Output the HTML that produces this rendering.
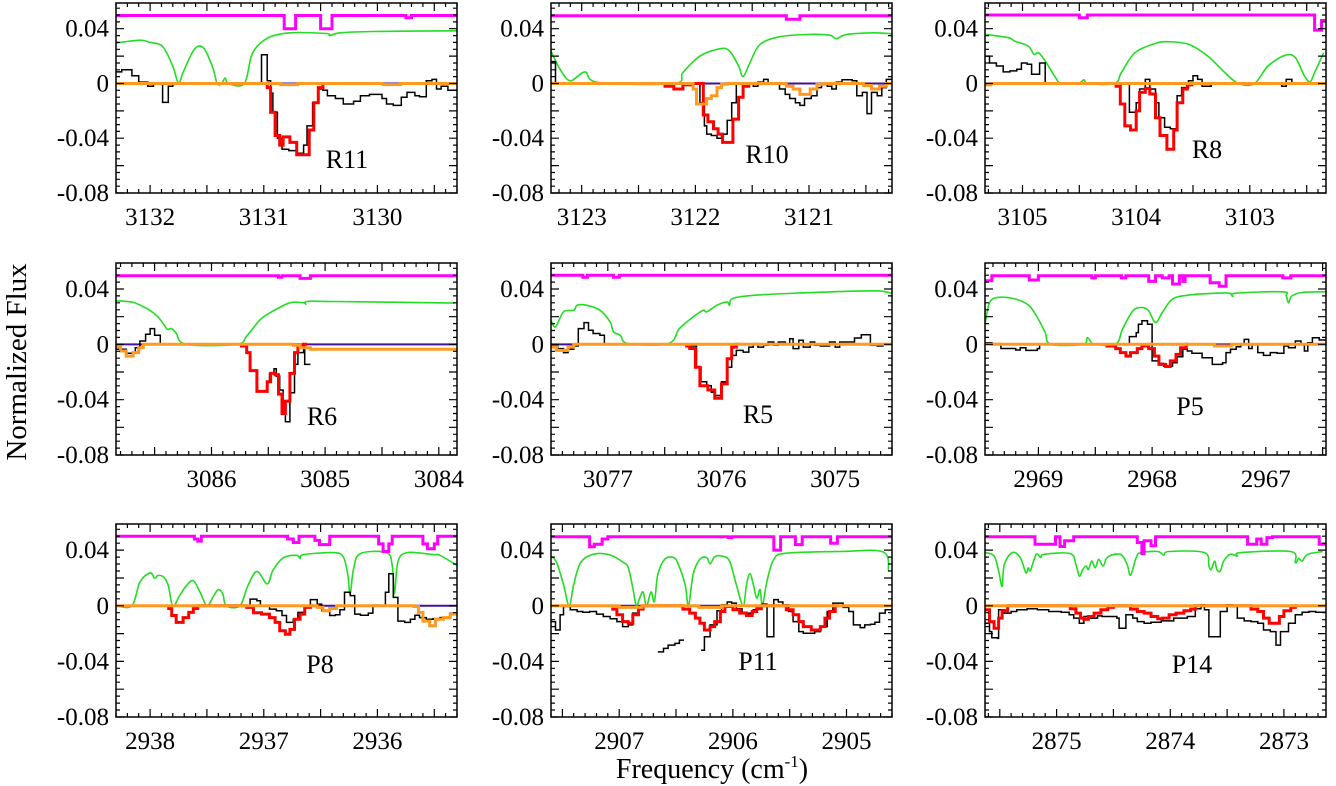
<!DOCTYPE html>
<html><head><meta charset="utf-8"><style>
html,body{margin:0;padding:0;background:#fff;}
svg{display:block;font-family:"Liberation Serif",serif;}
text{font-family:"Liberation Serif",serif;}
</style></head><body>
<svg id="chart" width="1336" height="786" viewBox="0 0 1336 786">
<rect x="0" y="0" width="1336" height="786" fill="#fff"/>
<text x="26" y="362" font-size="29" font-family="Liberation Serif, serif" text-anchor="middle" transform="rotate(-90 26 362)">Normalized Flux</text>
<text x="712" y="778" font-size="28" font-family="Liberation Serif, serif" text-anchor="middle">Frequency (cm<tspan font-size="17" dy="-11">-1</tspan><tspan dy="11">)</tspan></text>
</svg>
<script>
// ---------- data (frequency cm^-1, normalized flux) ----------
const r11Mag=[[3132.30,.0497],[3130.82,.040],[3130.72,.0497],[3130.50,.040],[3130.40,.0497],[3129.75,.048],[3129.70,.0497]];
const r11Green=[[3132.30,.0296],[3132.09,.0316],[3132.00,.030],[3131.89,.027],[3131.80,.0126],[3131.75,0],[3131.71,.008],[3131.61,.025],[3131.53,.026],[3131.45,.012],[3131.41,0],[3131.37,0],[3131.34,.004],[3131.31,0],[3131.17,0],[3131.10,.022],[3130.97,.033],[3130.77,.037],[3130.45,.0365],[3130.42,.035],[3130.33,.037],[3130.04,.038],[3129.30,.0385]];
const r11Black=[[3132.30,.0085],[3132.25,.010],[3132.16,.0056],[3132.10,.001],[3132.02,-.002],[3131.97,0],[3131.89,-.0138],[3131.84,-.002],[3131.80,0],[3131.02,.021],[3130.97,.002],[3130.94,-.007],[3130.92,-.021],[3130.88,-.040],[3130.84,-.048],[3130.78,-.049],[3130.71,-.051],[3130.65,-.045],[3130.62,-.031],[3130.57,-.014],[3130.52,-.004],[3130.48,-.005],[3130.44,-.009],[3130.37,-.011],[3130.30,-.015],[3130.21,-.013],[3130.15,-.009],[3130.07,-.008],[3129.96,-.011],[3129.92,-.015],[3129.86,-.016],[3129.79,-.010],[3129.74,-.0065],[3129.67,-.009],[3129.63,-.0097],[3129.57,.002],[3129.52,.003],[3129.48,-.004],[3129.44,-.002],[3129.38,-.005]];
const r11Red=[[3131.02,0],[3130.97,-.003],[3130.94,-.021],[3130.90,-.038],[3130.86,-.045],[3130.83,-.039],[3130.77,-.043],[3130.71,-.052],[3130.60,-.034],[3130.56,-.014],[3130.52,-.003],[3130.48,0],[3130.45,null]];
const r11Orange=[[3132.30,0],[3130.85,-.0008],[3130.70,0],[3129.95,-.0008],[3129.80,0]];

const r10Mag=[[3123.27,.0495],[3121.20,.047],[3121.08,.0495]];
const r10Green=[[3123.27,.0237],[3123.19,.0104],[3123.10,.002],[3122.97,.0085],[3122.85,.0007],[3122.19,0],[3122.11,.008],[3121.96,.020],[3121.78,.0254],[3121.70,.0237],[3121.62,.0128],[3121.58,.005],[3121.52,.0152],[3121.43,.0286],[3121.26,.0341],[3121.02,.0358],[3120.82,.0353],[3120.76,.0327],[3120.67,.0358],[3120.43,.037],[3120.27,.0363]];
const r10Black=[[3123.27,.016],[3123.23,0],[3121.96,-.014],[3121.92,-.031],[3121.90,-.037],[3121.86,-.038],[3121.81,-.040],[3121.77,-.037],[3121.72,-.027],[3121.68,-.014],[3121.64,0],[3121.49,-.002],[3121.45,.001],[3121.40,.003],[3121.36,0],[3121.26,-.004],[3121.21,-.008],[3121.17,-.011],[3121.12,-.014],[3121.08,-.016],[3121.04,-.011],[3120.98,-.009],[3120.93,-.003],[3120.89,0],[3120.84,-.002],[3120.80,-.004],[3120.76,.001],[3120.71,.0027],[3120.62,.002],[3120.58,-.009],[3120.53,-.0065],[3120.49,-.022],[3120.45,-.0065],[3120.40,-.009],[3120.36,-.003],[3120.32,.003]];
const r10Red=[[3122.28,-.002],[3122.19,-.004],[3122.11,-.001],[3122.02,0],[3121.93,-.023],[3121.89,-.028],[3121.84,-.033],[3121.80,-.037],[3121.76,-.043],[3121.67,-.026],[3121.62,-.010],[3121.58,-.002],[3121.53,0],[3121.50,null]];
const r10Orange=[[3123.27,0],[3122.02,-.004],[3121.99,-.015],[3121.90,-.011],[3121.86,-.009],[3121.81,-.003],[3121.77,-.0005],[3121.72,0],[3121.20,-.002],[3121.14,-.004],[3121.08,-.008],[3120.99,-.004],[3120.93,-.0005],[3120.87,0],[3120.52,-.0015],[3120.45,-.004],[3120.38,-.002],[3120.32,0]];

const r8Mag=[[3105.33,.050],[3104.50,.048],[3104.43,.050],[3102.43,.039],[3102.37,.046]];
const r8Green=[[3105.32,.0358],[3105.12,.0334],[3105.07,.031],[3104.95,.0273],[3104.90,.0213],[3104.86,.0225],[3104.80,.0165],[3104.71,.0044],[3104.66,0],[3104.51,0],[3104.46,.0027],[3104.42,0],[3104.19,0],[3104.13,.008],[3104.01,.0225],[3103.83,.0293],[3103.72,.0305],[3103.54,.0286],[3103.37,.020],[3103.22,.008],[3103.10,0],[3102.96,0],[3102.84,.0128],[3102.69,.0206],[3102.60,.0189],[3102.52,.0056],[3102.47,.0012],[3102.43,.008],[3102.35,.0225]];
const r8Black=[[3105.33,.020],[3105.29,.015],[3105.23,.0128],[3105.17,.0085],[3105.11,.0092],[3105.05,.0104],[3105.01,.015],[3104.96,.014],[3104.92,.0068],[3104.85,.015],[3104.80,0],[3104.06,-.021],[3104.00,-.014],[3103.97,-.004],[3103.92,.003],[3103.88,-.004],[3103.83,-.014],[3103.80,-.025],[3103.75,-.032],[3103.70,-.033],[3103.64,-.009],[3103.60,-.003],[3103.54,.002],[3103.50,.0056],[3103.46,.003],[3103.42,-.002],[3103.34,0],[3102.72,-.002],[3102.68,.003],[3102.63,0]];
const r8Red=[[3104.19,-.002],[3104.14,-.015],[3104.10,-.031],[3104.05,-.034],[3104.00,-.020],[3103.97,-.0065],[3103.92,-.0036],[3103.88,-.0077],[3103.83,-.025],[3103.79,-.038],[3103.73,-.048],[3103.67,-.034],[3103.64,-.014],[3103.59,-.004],[3103.55,-.001],[3103.51,0],[3103.48,null]];
const r8Orange=[[3105.33,-.001],[3105.28,0]];

const r6Mag=[[3086.84,.0496],[3085.41,.0485],[3085.38,.0496],[3085.22,.0477],[3085.13,.0496]];
const r6Green=[[3086.84,.0315],[3086.69,.0303],[3086.57,.0259],[3086.48,.0206],[3086.42,.0145],[3086.39,.0109],[3086.35,.0114],[3086.31,.008],[3086.22,0],[3085.78,0],[3085.69,.006],[3085.57,.018],[3085.46,.024],[3085.31,.030],[3085.19,.030],[3085.17,.029],[3085.16,.031],[3084.93,.031],[3083.86,.0298]];
const r6Black=[[3086.84,-.0036],[3086.75,-.0065],[3086.67,-.0024],[3086.63,.0024],[3086.58,.0073],[3086.54,.0114],[3086.50,.0065],[3086.45,0],[3085.69,-.006],[3085.66,-.019],[3085.60,-.034],[3085.51,-.027],[3085.49,-.021],[3085.45,-.0177],[3085.43,-.023],[3085.40,-.033],[3085.37,-.050],[3085.35,-.056],[3085.31,-.035],[3085.27,-.0145],[3085.24,-.006],[3085.19,-.0036],[3085.18,-.0145],[3085.13,null]];
const r6Red=[[3085.75,-.0012],[3085.69,-.006],[3085.66,-.019],[3085.60,-.034],[3085.51,-.027],[3085.48,-.021],[3085.44,-.022],[3085.41,-.036],[3085.38,-.050],[3085.35,-.041],[3085.31,-.021],[3085.27,-.006],[3085.24,-.001],[3085.19,0],[3085.16,null]];
const r6Orange=[[3086.84,-.0017],[3086.80,-.0048],[3086.75,-.0085],[3086.69,-.006],[3086.64,-.0024],[3086.60,0],[3085.28,-.0007],[3085.22,-.0024],[3085.13,-.0036]];

const r5Mag=[[3077.50,.050],[3077.22,.0485],[3077.18,.050],[3076.95,.0485],[3076.90,.050]];
const r5Green=[[3077.50,.0174],[3077.46,.0126],[3077.39,.0235],[3077.30,.0247],[3077.27,.0283],[3077.19,.0283],[3077.07,.0247],[3076.98,.0162],[3076.95,.009],[3076.89,.0065],[3076.82,.0005],[3076.47,.0005],[3076.37,.0114],[3076.25,.0198],[3076.16,.0247],[3076.13,.0235],[3076.04,.0283],[3075.95,.0307],[3075.93,.0283],[3075.90,.0332],[3075.69,.0356],[3075.25,.0373],[3074.66,.0387],[3074.50,.0368]];
const r5Black=[[3077.50,-.0012],[3077.44,-.0031],[3077.39,-.006],[3077.35,-.0036],[3077.30,-.0012],[3077.26,.0114],[3077.21,.0157],[3077.17,.0102],[3077.13,.0078],[3077.07,.0065],[3077.03,0],[3076.28,-.0012],[3076.22,-.0165],[3076.18,-.027],[3076.13,-.030],[3076.09,-.0346],[3076.06,-.037],[3076.00,-.027],[3075.95,-.0165],[3075.91,-.008],[3075.87,-.0044],[3075.81,-.0056],[3075.76,-.002],[3075.72,.0005],[3075.68,-.002],[3075.63,-.0007],[3075.59,.0017],[3075.54,-.0007],[3075.50,.0017],[3075.44,.0005],[3075.40,.004],[3075.37,-.0031],[3075.32,.003],[3075.28,-.002],[3075.22,.0017],[3075.18,-.0007],[3075.13,-.0012],[3075.05,.0017],[3075.00,-.002],[3074.96,.0017],[3074.83,.0046],[3074.77,.007],[3074.69,-.0007],[3074.63,-.0012],[3074.58,-.0002]];
const r5Red=[[3076.32,-.0012],[3076.28,-.003],[3076.23,-.0165],[3076.19,-.030],[3076.12,-.033],[3076.06,-.039],[3076.00,-.0286],[3075.95,-.0104],[3075.91,-.002],[3075.87,0],[3075.85,null]];
const r5Orange=[[3077.50,-.002],[3077.45,-.0044],[3077.35,-.002],[3077.30,0]];

const p5Mag=[[2969.47,.046],[2969.41,.0496],[2969.08,.0465],[2969.00,.0496],[2968.53,.048],[2968.50,.0496],[2968.27,.048],[2968.23,.0496],[2968.03,.0455],[2967.97,.0496],[2967.91,.048],[2967.85,.0496],[2967.82,.0436],[2967.76,.0496],[2967.73,.0455],[2967.71,.0496],[2967.49,.0445],[2967.41,.042],[2967.35,.0496],[2966.85,.048],[2966.78,.0496]];
const p5Green=[[2969.47,.0145],[2969.43,.030],[2969.35,.034],[2969.20,.0327],[2969.08,.0278],[2969.00,.018],[2968.94,.0085],[2968.89,0],[2968.61,0],[2968.57,.0048],[2968.53,.001],[2968.50,0],[2968.32,0],[2968.26,.0109],[2968.17,.0242],[2968.09,.0266],[2968.03,.0242],[2967.97,.0157],[2967.91,.023],[2967.82,.0327],[2967.68,.0356],[2967.44,.037],[2967.32,.037],[2967.29,.0346],[2967.26,.037],[2966.85,.038],[2966.82,.035],[2966.80,.030],[2966.77,.035],[2966.68,.0375],[2966.47,.038]];
const p5Black=[[2969.47,.0012],[2969.41,.0005],[2969.33,-.003],[2969.27,-.003],[2969.20,-.0041],[2969.16,-.0024],[2969.11,-.0044],[2969.01,-.0031],[2968.99,0],[2968.20,.0056],[2968.14,.0085],[2968.12,.0145],[2968.09,.017],[2968.04,.0145],[2968.00,-.012],[2967.94,-.0138],[2967.90,-.0157],[2967.82,-.0133],[2967.78,-.009],[2967.73,-.0036],[2967.69,-.0048],[2967.65,-.0065],[2967.56,-.0097],[2967.47,-.0145],[2967.38,-.0133],[2967.35,-.006],[2967.31,-.0036],[2967.26,-.0017],[2967.22,0],[2967.19,.0036],[2967.15,-.003],[2967.12,0],[2967.07,-.006],[2967.02,-.008],[2966.96,-.006],[2966.90,-.0065],[2966.84,-.0012],[2966.80,-.0024],[2966.74,.0024],[2966.69,0],[2966.66,-.0048],[2966.63,.0012],[2966.59,.0048],[2966.53,.0031]];
const p5Red=[[2968.41,-.0012],[2968.32,-.0031],[2968.28,-.006],[2968.23,-.0085],[2968.19,-.006],[2968.13,-.0031],[2968.09,-.0012],[2968.03,-.0031],[2967.98,-.0085],[2967.94,-.0145],[2967.88,-.016],[2967.84,-.012],[2967.79,-.0073],[2967.75,-.0024],[2967.70,0],[2967.68,null]];
const p5Orange=[[2969.47,0],[2967.45,-.0012],[2967.30,0]];

const p8Mag=[[2938.30,.050],[2937.61,.048],[2937.58,.0465],[2937.55,.050],[2936.79,.048],[2936.74,.0455],[2936.69,.050],[2936.55,.047],[2936.51,.044],[2936.42,.050],[2935.99,.0445],[2935.95,.039],[2935.90,.0445],[2935.87,.050],[2935.60,.0445],[2935.56,.041],[2935.50,.0445],[2935.47,.050]];
const p8Green=[[2938.30,0],[2938.16,0],[2938.09,.017],[2938.00,.0237],[2937.96,.0198],[2937.93,.0218],[2937.88,.0206],[2937.84,.0145],[2937.80,0],[2937.74,.0073],[2937.68,.0145],[2937.62,.018],[2937.56,.0097],[2937.50,0],[2937.44,.0073],[2937.40,.0116],[2937.36,.0085],[2937.33,0],[2937.21,0],[2937.14,.0145],[2937.06,.0247],[2936.97,.0157],[2936.92,.0254],[2936.83,.0344],[2936.71,.0363],[2936.68,.0339],[2936.65,.0368],[2936.39,.0382],[2936.30,.0351],[2936.26,.0218],[2936.24,.0085],[2936.21,.0266],[2936.15,.0375],[2935.92,.0382],[2935.87,.029],[2935.85,.0085],[2935.82,.0315],[2935.74,.0382],[2935.51,.0368],[2935.45,.0363],[2935.30,.029]];
const p8Black=[[2938.30,0],[2937.12,.0048],[2937.06,.0036],[2937.03,0],[2936.95,-.0024],[2936.89,-.0036],[2936.84,-.007],[2936.80,-.012],[2936.74,-.0097],[2936.70,-.0048],[2936.64,-.0012],[2936.59,.0044],[2936.53,.0012],[2936.49,-.0036],[2936.42,-.007],[2936.37,-.0065],[2936.33,-.0029],[2936.29,.0097],[2936.24,.0073],[2936.20,-.006],[2936.15,-.0068],[2936.08,-.0053],[2936.04,.0005],[2935.98,0],[2935.93,.0097],[2935.90,.023],[2935.86,.006],[2935.82,-.011],[2935.76,-.012],[2935.71,-.0097],[2935.67,-.0068],[2935.63,-.0085],[2935.57,-.0097],[2935.51,-.0092],[2935.45,-.0085],[2935.36,-.0053]];
const p8Red=[[2937.85,-.002],[2937.81,-.007],[2937.77,-.012],[2937.71,-.0085],[2937.66,-.0048],[2937.62,-.002],[2937.58,0],[2937.15,-.0012],[2937.09,-.005],[2937.02,-.006],[2936.95,-.0085],[2936.90,-.012],[2936.86,-.018],[2936.81,-.0205],[2936.77,-.017],[2936.73,-.0097],[2936.68,-.006],[2936.64,-.0012],[2936.59,0],[2936.56,null]];
const p8Orange=[[2938.30,0],[2936.53,-.0012],[2936.48,-.0036],[2936.42,-.002],[2936.36,0],[2935.68,-.0005],[2935.64,-.0048],[2935.60,-.011],[2935.54,-.0145],[2935.49,-.0097],[2935.42,-.0085],[2935.36,-.006]];

const p11Mag=[[2907.60,.0496],[2907.26,.0424],[2907.22,.0443],[2907.15,.048],[2907.10,.0496],[2906.04,.049],[2906.01,.0496],[2905.64,.040],[2905.58,.0496],[2905.45,.044],[2905.39,.0496],[2905.14,.045],[2905.08,.0496]];
const p11Green=[[2907.60,.0358],[2907.55,.031],[2907.49,.0152],[2907.44,0],[2907.40,.0152],[2907.34,.031],[2907.23,.037],[2907.08,.0365],[2906.96,.031],[2906.92,.0273],[2906.88,.0128],[2906.85,0],[2906.82,.0056],[2906.79,.0099],[2906.76,0],[2906.72,.0099],[2906.69,.0031],[2906.66,.0225],[2906.60,.0334],[2906.52,.0346],[2906.48,.0298],[2906.42,.0152],[2906.39,0],[2906.35,.0225],[2906.29,.0334],[2906.23,.0346],[2906.20,.0302],[2906.16,.0353],[2906.10,.0358],[2906.03,.0322],[2905.97,.0152],[2905.91,0],[2905.88,.0152],[2905.85,.023],[2905.82,.0152],[2905.79,.0056],[2905.76,.0116],[2905.74,0],[2905.70,.0177],[2905.64,.0334],[2905.53,.0378],[2905.06,.039],[2904.68,.0387],[2904.63,.0249]];
const p11Black=[[2907.60,-.0114],[2907.56,-.0174],[2907.52,-.0065],[2907.49,-.0005],[2907.43,-.0029],[2907.37,-.0041],[2907.32,-.0046],[2907.26,-.0041],[2907.20,-.006],[2907.14,-.0077],[2907.08,-.0094],[2907.02,-.0114],[2906.97,-.015],[2906.92,-.0138],[2906.88,-.0053],[2906.83,null],[2906.66,-.0332],[2906.61,-.0307],[2906.57,-.0283],[2906.51,-.0271],[2906.47,-.0247],[2906.43,null],[2906.28,-.032],[2906.25,-.0223],[2906.20,-.0138],[2906.14,-.0036],[2906.10,.0007],[2906.05,.0027],[2906.01,.0019],[2905.97,-.0022],[2905.92,-.0046],[2905.88,-.0053],[2905.82,-.0029],[2905.78,-.0005],[2905.74,.0012],[2905.70,-.0223],[2905.64,.0044],[2905.60,.0027],[2905.56,.0007],[2905.51,-.0041],[2905.47,-.0114],[2905.42,-.0186],[2905.38,-.0198],[2905.34,-.0198],[2905.28,-.0186],[2905.23,-.015],[2905.17,-.0041],[2905.12,.0019],[2905.03,-.0012],[2904.98,-.0041],[2904.94,-.0138],[2904.88,-.0157],[2904.84,-.0138],[2904.79,-.0133],[2904.75,-.0119],[2904.71,-.0053],[2904.66,-.0029]];
const p11Red=[[2907.07,-.0024],[2907.02,-.0065],[2906.97,-.0114],[2906.92,-.0126],[2906.88,-.0065],[2906.83,-.0024],[2906.79,0],[2906.44,-.0024],[2906.38,-.0053],[2906.33,-.0089],[2906.29,-.0126],[2906.25,-.0174],[2906.20,-.015],[2906.16,-.0114],[2906.11,-.0041],[2906.07,-.0005],[2906.00,-.0029],[2905.94,-.0053],[2905.88,-.007],[2905.83,-.0041],[2905.79,-.0022],[2905.75,0],[2905.53,-.0029],[2905.47,-.0065],[2905.42,-.0114],[2905.38,-.015],[2905.31,-.0174],[2905.23,-.015],[2905.19,-.0089],[2905.15,-.0041],[2905.10,0],[2905.07,null]];
const p11Orange=[[2907.60,0],[2907.00,-.0012],[2906.80,0],[2906.30,-.0012],[2906.10,0]];

const p14Mag=[[2875.63,.0496],[2875.19,.0443],[2875.01,.0496],[2874.97,.0426],[2874.93,.0467],[2874.85,.0496],[2874.29,.0455],[2874.25,.0375],[2874.23,.0467],[2874.17,.0431],[2874.13,.0496],[2873.32,.0443],[2873.24,.0480],[2873.20,.0443],[2873.15,.0490],[2873.10,.0496],[2872.69,.0443]];
const p14Green=[[2875.63,.0382],[2875.55,.0358],[2875.51,.0249],[2875.48,.014],[2875.46,.0298],[2875.39,.0382],[2875.32,.0346],[2875.27,.0237],[2875.25,.0273],[2875.23,.0254],[2875.18,.037],[2875.14,.0346],[2875.11,.037],[2874.88,.0375],[2874.83,.0298],[2874.80,.0213],[2874.77,.0261],[2874.74,.0286],[2874.72,.0261],[2874.69,.0322],[2874.66,.0273],[2874.63,.0334],[2874.59,.0286],[2874.55,.0351],[2874.44,.037],[2874.38,.0298],[2874.35,.022],[2874.30,.0346],[2874.26,.0382],[2874.11,.039],[2874.06,.0365],[2874.01,.039],[2873.70,.0382],[2873.66,.0286],[2873.64,.0261],[2873.61,.0322],[2873.59,.0261],[2873.56,.0249],[2873.53,.0322],[2873.47,.037],[2873.41,.0358],[2873.38,.0382],[2872.94,.039],[2872.90,.031],[2872.87,.0341],[2872.84,.0322],[2872.79,.037],[2872.66,.039]];
const p14Black=[[2875.63,-.0126],[2875.59,-.0186],[2875.57,-.023],[2875.52,-.0235],[2875.51,-.0029],[2875.46,-.0053],[2875.40,-.0041],[2875.35,-.0029],[2875.26,-.0022],[2875.17,-.0029],[2875.07,-.0041],[2874.96,-.0046],[2874.89,-.0065],[2874.85,-.0089],[2874.80,-.0126],[2874.76,-.0077],[2874.70,-.0089],[2874.64,-.0073],[2874.60,-.0077],[2874.55,-.0077],[2874.47,-.0089],[2874.45,-.0162],[2874.39,-.0065],[2874.33,-.0089],[2874.29,-.0114],[2874.23,-.0126],[2874.17,-.0119],[2874.08,-.0109],[2873.97,-.0089],[2873.85,-.0077],[2873.78,-.0022],[2873.73,.0007],[2873.70,-.0029],[2873.66,-.0223],[2873.60,-.0223],[2873.56,-.0041],[2873.50,.0007],[2873.45,-.0005],[2873.41,-.0089],[2873.35,-.0109],[2873.29,-.0114],[2873.23,-.0126],[2873.18,-.0174],[2873.12,-.0186],[2873.07,-.0283],[2873.03,-.0186],[2872.96,-.0126],[2872.90,-.0065],[2872.84,-.0046],[2872.78,-.0041],[2872.72,-.0046]];
const p14Red=[[2875.63,-.0029],[2875.59,-.0114],[2875.55,-.0162],[2875.51,-.0089],[2875.48,-.0036],[2875.43,0],[2874.88,-.0022],[2874.83,-.0053],[2874.79,-.0089],[2874.76,-.0097],[2874.72,-.0077],[2874.67,-.0053],[2874.61,-.0029],[2874.55,-.0012],[2874.50,0],[2874.35,-.0024],[2874.29,-.0041],[2874.23,-.0053],[2874.17,-.0077],[2874.11,-.0094],[2874.07,-.0089],[2874.01,-.0065],[2873.95,-.0053],[2873.88,-.0036],[2873.82,-.0024],[2873.78,0],[2873.29,-.0024],[2873.23,-.0041],[2873.18,-.0089],[2873.13,-.0126],[2873.09,-.0126],[2873.04,-.0077],[2873.00,-.0036],[2872.94,-.0012],[2872.90,0],[2872.88,null]];
const p14Orange=[[2875.63,0]];

const yTickLabels=["0.04","0","-0.04","-0.08"];
const yTickValues=[0.04,0,-0.04,-0.08];
const panelNames=["R11","R10","R8","R6","R5","P5","P8","P11","P14"];
const panelLeftFreq=[3132.30,3123.27,3105.33,3086.84,3077.50,2969.47,2938.30,2907.60,2875.63];
const panelSpan=3.0;
const yMin=-0.08, yMax=0.0588;

// ---------- layout (pixels) ----------
const colLeft=[116,551,985], W=341;
const rowTop=[3,263,524], rowBot=[193,455,717];
const labelOff=[[231,168],[216,163],[222,158],[206,425],[207,423],[205,415],[204,673],[207,670],[207,673]];
const series=[
 [r11Mag,r11Green,r11Black,r11Red,r11Orange],[r10Mag,r10Green,r10Black,r10Red,r10Orange],[r8Mag,r8Green,r8Black,r8Red,r8Orange],
 [r6Mag,r6Green,r6Black,r6Red,r6Orange],[r5Mag,r5Green,r5Black,r5Red,r5Orange],[p5Mag,p5Green,p5Black,p5Red,p5Orange],
 [p8Mag,p8Green,p8Black,p8Red,p8Orange],[p11Mag,p11Green,p11Black,p11Red,p11Orange],[p14Mag,p14Green,p14Black,p14Red,p14Orange]];

const NS="http://www.w3.org/2000/svg";
const svg=document.getElementById("chart");
function mk(tag,attrs,parent){const e=document.createElementNS(NS,tag);for(const k in attrs)e.setAttribute(k,attrs[k]);(parent||svg).appendChild(e);return e;}
function smoothPath(P){
  let d="M"+P[0][0].toFixed(1)+" "+P[0][1].toFixed(1);
  for(let k=0;k<P.length-1;k++){
    const p0=P[k-1]||P[k], p1=P[k], p2=P[k+1], p3=P[k+2]||P[k+1];
    const c1x=p1[0]+(p2[0]-p0[0])/6, c1y=p1[1]+(p2[1]-p0[1])/6;
    const c2x=p2[0]-(p3[0]-p1[0])/6, c2y=p2[1]-(p3[1]-p1[1])/6;
    d+="C"+c1x.toFixed(1)+" "+c1y.toFixed(1)+" "+c2x.toFixed(1)+" "+c2y.toFixed(1)+" "+p2[0].toFixed(1)+" "+p2[1].toFixed(1);
  }
  return d;
}

for(let i=0;i<9;i++){
  const r=Math.floor(i/3), c=i%3;
  const L=colLeft[c], R=L+W, T=rowTop[r], B=rowBot[r];
  const f0=panelLeftFreq[i], f1=f0-panelSpan;
  const X=f=>L+(f0-f)/(f0-f1)*(R-L);
  const Y=v=>B-(v-yMin)/(yMax-yMin)*(B-T);
  const g=mk("g",{});
  
  
  const cp=mk("clipPath",{id:"cp"+i},g);
  mk("rect",{x:L,y:T,width:W,height:B-T},cp);
  const plot=mk("g",{"clip-path":"url(#cp"+i+")"},g);
  
  
  const zl=mk("line",{x1:L,x2:R,y1:Y(0),y2:Y(0),stroke:"#4010a0","stroke-width":2},plot);
  
  
  function stepPath(pts){
    let d="",prev=false;
    for(let k=0;k<pts.length;k++){
      const v=pts[k][1];
      if(v===null){prev=false;continue;}
      const xa=X(pts[k][0]), xb=k+1<pts.length?X(pts[k+1][0]):R+5, y=Y(v);
      d+=(prev?"L":"M")+xa.toFixed(1)+" "+y.toFixed(1)+"L"+xb.toFixed(1)+" "+y.toFixed(1);
      prev=true;
    }
    return d;
  }
  const [mag,green,black,red,orange]=series[i];
  const gl=mk("path",{d:smoothPath(green.map(p=>[X(p[0]),Y(p[1])])),fill:"none",stroke:"#22dd22","stroke-width":1.6,"stroke-linejoin":"round"},plot);
  
  
  const bl=mk("path",{d:stepPath(black),fill:"none",stroke:"#000","stroke-width":1.5},plot);
  
  
  const ml=mk("path",{d:stepPath(mag),fill:"none",stroke:"#ff00ff","stroke-width":3},plot);
  
  
  const rl=mk("path",{d:stepPath(red),fill:"none",stroke:"#ff0000","stroke-width":3},plot);
  
  
  const ol=mk("path",{d:stepPath(orange),fill:"none",stroke:"#ff9920","stroke-width":3},plot);
  
  
  const fr=mk("rect",{x:L,y:T,width:W,height:B-T,fill:"none",stroke:"#000","stroke-width":1.5},g);
  
  
  let td="";
  for(let f=Math.ceil(f1*10);f<=Math.floor(f0*10);f++){
    const x=X(f/10), len=(f%5===0)?8:4;
    td+=`M${x.toFixed(1)} ${B}v${-len}M${x.toFixed(1)} ${T}v${len}`;
  }
  for(let v=-16;v<=11;v++){
    const y=Y(v*0.005), len=(v%4===0)?8:4;
    td+=`M${L} ${y.toFixed(1)}h${len}M${R} ${y.toFixed(1)}h${-len}`;
  }
  const tk=mk("path",{d:td,stroke:"#000","stroke-width":1.2,fill:"none"},g);
  
  
  for(let f=Math.ceil(f1);f<=Math.floor(f0);f++){
    const t=mk("text",{x:X(f),y:B+32,"font-size":25,"font-family":"Liberation Serif, serif","text-anchor":"middle"},g);
    
    
    t.textContent=String(f);
  }
  for(let k=0;k<yTickValues.length;k++){
    const t=mk("text",{x:L-7,y:Y(yTickValues[k])+8,"font-size":25,"font-family":"Liberation Serif, serif","text-anchor":"end"},g);
    
    
    t.textContent=yTickLabels[k];
  }
  const lb=mk("text",{x:L+labelOff[i][0],y:labelOff[i][1],"font-size":26,"font-family":"Liberation Serif, serif","text-anchor":"middle"},g);
  
  
  lb.textContent=panelNames[i];
}
</script>
</body></html>
